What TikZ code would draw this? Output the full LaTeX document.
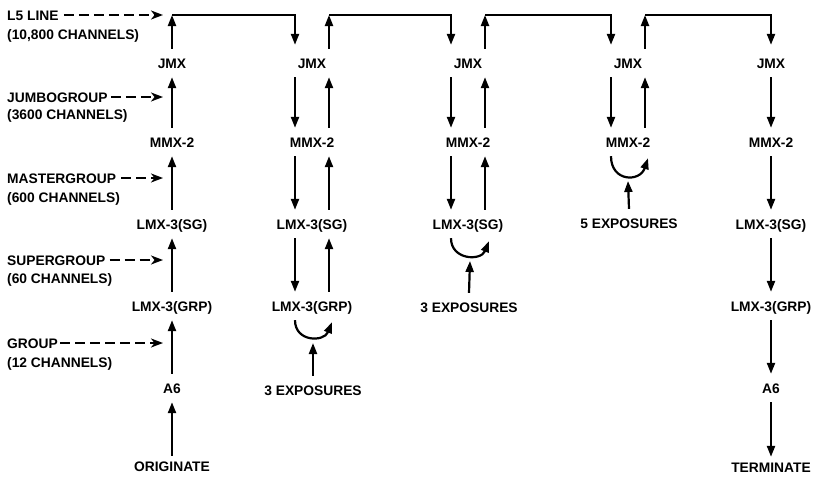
\documentclass[tikz,border=0pt]{standalone}
\usepackage{fontspec}
\setmainfont{Liberation Sans}
\usetikzlibrary{arrows.meta}
\begin{document}
\begin{tikzpicture}[x=1pt,y=-1pt,
  lbl/.style={font=\fontsize{13.8}{16}\selectfont\bfseries, inner sep=0pt, minimum height=28pt, text height=10pt, text depth=0pt},
  endlbl/.style={lbl, minimum height=20pt},
  side/.style={lbl, anchor=west, minimum height=0pt},
  arr/.style={line width=2.2pt, -{Triangle[length=11pt,width=8pt]}},
  darr/.style={line width=1.8pt, dash pattern=on 10pt off 5pt, -{Stealth[length=12pt,width=9pt,inset=3.5pt]}}
]
\useasboundingbox (0,0) rectangle (814,479);
\fill[white] (0,0) rectangle (814,479);

% column 1
\node[lbl] (a1) at (172,63) {JMX};
\node[lbl] (b1) at (172,142) {MMX-2};
\node[lbl] (c1) at (172,224) {LMX-3(SG)};
\node[lbl] (d1) at (172,306) {LMX-3(GRP)};
\node[lbl] (e1) at (172,388) {A6};
\node[endlbl] (o1) at (172,466) {ORIGINATE};
% column 2
\node[lbl] (a2) at (312,63) {JMX};
\node[lbl] (b2) at (312,142) {MMX-2};
\node[lbl] (c2) at (312,224) {LMX-3(SG)};
\node[lbl] (d2) at (312,306) {LMX-3(GRP)};
\node[lbl] (x2) at (313,390) {3 EXPOSURES};
% column 3
\node[lbl] (a3) at (468,63) {JMX};
\node[lbl] (b3) at (468,142) {MMX-2};
\node[lbl] (c3) at (468,224) {LMX-3(SG)};
\node[lbl] (x3) at (469,307) {3 EXPOSURES};
% column 4
\node[lbl] (a4) at (628,63) {JMX};
\node[lbl] (b4) at (628,142) {MMX-2};
\node[lbl] (x4) at (629,223) {5 EXPOSURES};
% column 5
\node[lbl] (a5) at (771,63) {JMX};
\node[lbl] (b5) at (771,142) {MMX-2};
\node[lbl] (c5) at (771,224) {LMX-3(SG)};
\node[lbl] (d5) at (771,306) {LMX-3(GRP)};
\node[lbl] (e5) at (771,388) {A6};
\node[endlbl] (t5) at (771,467) {TERMINATE};

% top corners
\coordinate (t1) at (172,15);
\coordinate (t2) at (329,15);
\coordinate (t3) at (485,15);
\coordinate (t4) at (645,15);
% tips under the U-turns
\coordinate (u2) at (313,343);
\coordinate (u3) at (470,261);
\coordinate (u4) at (628,181);

% column 1 arrows (up)
\draw[arr] (o1.north) -- (e1.south);
\draw[arr] (e1.north) -- (d1.south);
\draw[arr] (d1.north) -- (c1.south);
\draw[arr] (c1.north) -- (b1.south);
\draw[arr] (b1.north) -- (a1.south);
\draw[arr] (a1.north) -- (t1);
\draw[arr] (t1) -| ([xshift=-17pt,yshift=4pt]a2.north);

% column 2
\draw[arr] ([xshift=-17pt]a2.south) -- ([xshift=-17pt]b2.north);
\draw[arr] ([xshift=-17pt]b2.south) -- ([xshift=-17pt]c2.north);
\draw[arr] ([xshift=-17pt]c2.south) -- ([xshift=-17pt]d2.north);
\draw[arr] ([xshift=-17pt]d2.south) .. controls +(0,22) and +(-8,20) .. ([xshift=20pt,yshift=-2pt]d2.south);
\draw[arr] (x2.north) -- (u2);
\draw[arr] ([xshift=17pt]d2.north) -- ([xshift=17pt]c2.south);
\draw[arr] ([xshift=17pt]c2.north) -- ([xshift=17pt]b2.south);
\draw[arr] ([xshift=17pt]b2.north) -- ([xshift=17pt]a2.south);
\draw[arr] ([xshift=17pt]a2.north) -- (t2);
\draw[arr] (t2) -| ([xshift=-17pt,yshift=4pt]a3.north);

% column 3
\draw[arr] ([xshift=-17pt]a3.south) -- ([xshift=-17pt]b3.north);
\draw[arr] ([xshift=-17pt]b3.south) -- ([xshift=-17pt]c3.north);
\draw[arr] ([xshift=-17pt]c3.south) .. controls +(0,22) and +(-8,20) .. ([xshift=21pt,yshift=-3pt]c3.south);
\draw[arr] (x3.north) -- (u3);
\draw[arr] ([xshift=17pt]c3.north) -- ([xshift=17pt]b3.south);
\draw[arr] ([xshift=17pt]b3.north) -- ([xshift=17pt]a3.south);
\draw[arr] ([xshift=17pt]a3.north) -- (t3);
\draw[arr] (t3) -| ([xshift=-17pt,yshift=4pt]a4.north);

% column 4
\draw[arr] ([xshift=-17pt]a4.south) -- ([xshift=-17pt]b4.north);
\draw[arr] ([xshift=-17pt]b4.south) .. controls +(0,26) and +(-8,24) .. ([xshift=20pt,yshift=-2pt]b4.south);
\draw[arr] (x4.north) -- (u4);
\draw[arr] ([xshift=17pt]b4.north) -- ([xshift=17pt]a4.south);
\draw[arr] ([xshift=17pt]a4.north) -- (t4);
\draw[arr] (t4) -| ([yshift=4pt]a5.north);

% column 5 (down)
\draw[arr] (a5.south) -- (b5.north);
\draw[arr] (b5.south) -- (c5.north);
\draw[arr] (c5.south) -- (d5.north);
\draw[arr] (d5.south) -- (e5.north);
\draw[arr] (e5.south) -- (t5.north);

% side labels
\node[side] (l5) at (7,15) {L5 LINE};
\node[side] (l5c) at (7,34) {(10,800 CHANNELS)};
\node[side] (jg) at (7,97) {JUMBOGROUP};
\node[side] (jgc) at (7,114) {(3600 CHANNELS)};
\node[side] (mg) at (7,178) {MASTERGROUP};
\node[side] (mgc) at (7,197) {(600 CHANNELS)};
\node[side] (sg) at (7,260) {SUPERGROUP};
\node[side] (sgc) at (7,278) {(60 CHANNELS)};
\node[side] (gr) at (7,343) {GROUP};
\node[side] (grc) at (7,362) {(12 CHANNELS)};

\coordinate (h1) at (163,15);
\coordinate (h2) at (163,97);
\coordinate (h3) at (163,178);
\coordinate (h4) at (163,260);
\coordinate (h5) at (163,343);

\draw[darr] ([xshift=5pt]l5.east) -- (h1);
\draw[darr] ([xshift=3pt]jg.east) -- (h2);
\draw[darr] ([xshift=5pt]mg.east) -- (h3);
\draw[darr] ([xshift=4pt]sg.east) -- (h4);
\draw[darr] ([xshift=2pt]gr.east) -- (h5);
\end{tikzpicture}
\end{document}
